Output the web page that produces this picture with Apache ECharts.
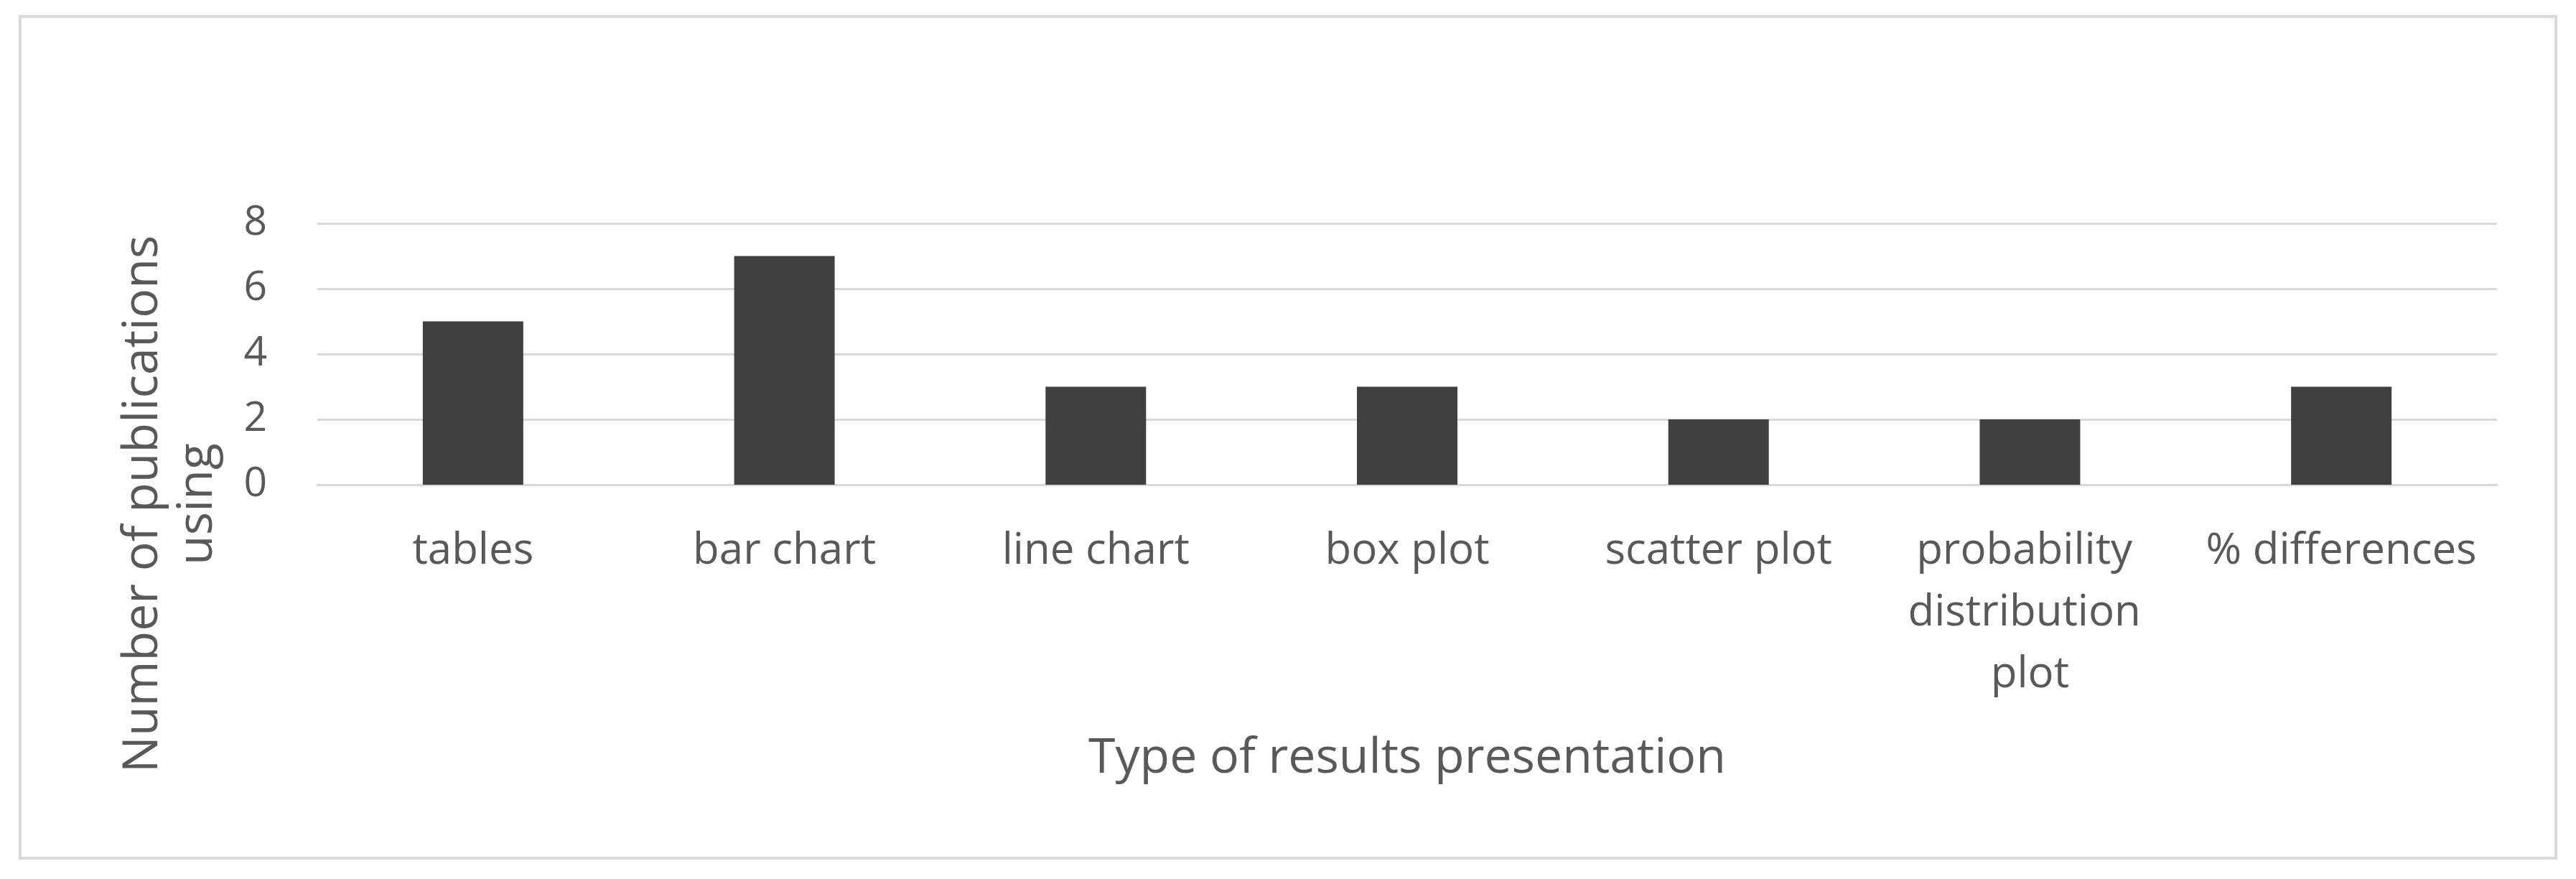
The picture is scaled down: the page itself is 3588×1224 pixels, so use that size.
<!DOCTYPE html>
<html lang="en">
<head>
    <meta charset="UTF-8">
    <title>Type of results presentation</title>
    <script src="https://cdn.jsdelivr.net/npm/echarts@6/dist/echarts.min.js"></script>
    <style>
        html, body { margin: 0; padding: 0; background: #ffffff; }
    </style>
</head>
<body>
    <div id="main" style="width: 3588px;height:1224px;"></div>
    <script type="text/javascript">
      // data
      var categories = ['tables', 'bar chart', 'line chart', 'box plot', 'scatter plot', 'probability distribution plot', '% differences'];
      var publications = [5, 7, 3, 3, 2, 2, 3];
      var yTicks = [0, 2, 4, 6, 8];

      var textColor = '#595959';
      var lineColor = '#d9d9d9';
      var font = 'Open Sans';

      var myChart = echarts.init(document.getElementById('main'));

      var option = {
        backgroundColor: '#ffffff',
        animation: false,
        grid: {
          left: 442,
          right: 3588 - 3478,
          top: 311,
          bottom: 1224 - 675,
          containLabel: false
        },
        xAxis: {
          type: 'category',
          data: categories,
          name: 'Type of results presentation',
          nameLocation: 'middle',
          nameGap: 348,
          nameTextStyle: { color: textColor, fontFamily: font, fontSize: 68 },
          axisLine: { lineStyle: { color: lineColor, width: 3 } },
          axisTick: { show: false },
          axisLabel: {
            interval: 0,
            color: textColor,
            fontFamily: font,
            fontSize: 60,
            lineHeight: 86,
            margin: 50,
            width: 420,
            overflow: 'break'
          }
        },
        yAxis: {
          type: 'value',
          min: yTicks[0],
          max: yTicks[yTicks.length - 1],
          interval: yTicks[1] - yTicks[0],
          axisLine: { show: false },
          axisTick: { show: false },
          splitLine: { lineStyle: { color: lineColor, width: 3 } },
          axisLabel: {
            color: textColor,
            fontFamily: font,
            fontSize: 57,
            margin: 70
          }
        },
        // y axis title sits lower than the plot centre, so draw it by hand
        graphic: [
          {
            type: 'rect',
            shape: { x: 28, y: 23, width: 3532, height: 1172 },
            style: { fill: 'none', stroke: lineColor, lineWidth: 4 },
            silent: true
          },
          {
            type: 'text',
            x: 238,
            y: 702,
            rotation: Math.PI / 2,
            style: {
              text: 'Number of publications\nusing',
              fill: textColor,
              font: '68px "Open Sans"',
              lineHeight: 76,
              textAlign: 'center',
              textVerticalAlign: 'middle'
            }
          }
        ],
        series: [
          {
            name: 'publications',
            type: 'bar',
            data: publications,
            barWidth: 140,
            itemStyle: { color: '#404040' }
          }
        ]
      };

      myChart.setOption(option);
    </script>
</body>
</html>
